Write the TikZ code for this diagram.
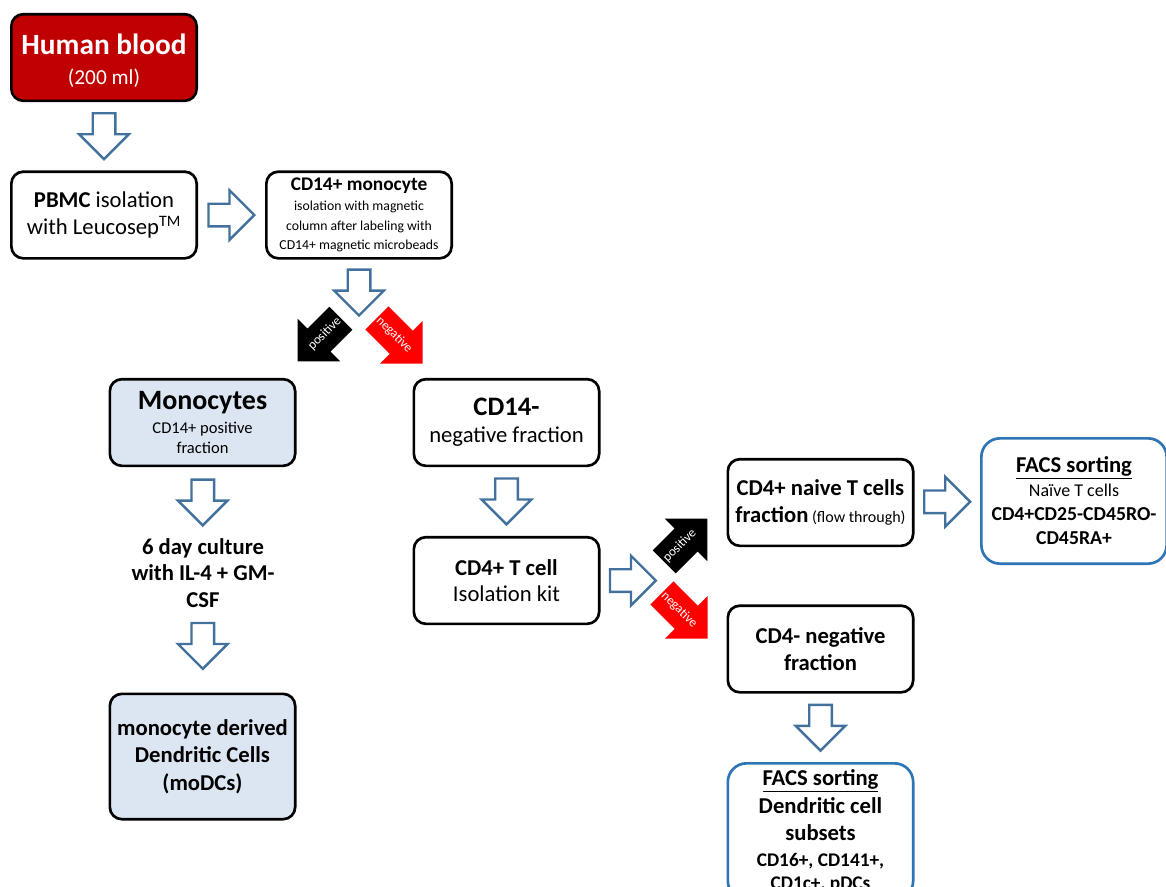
\documentclass[tikz,border=0pt]{standalone}
\usepackage{fontspec}
\setmainfont{Carlito}
\usepackage{color}
\definecolor{mydarkred}{RGB}{192,0,0}
\definecolor{mypaleblue}{RGB}{220,230,242}
\definecolor{myarrowblue}{RGB}{65,113,156}
\definecolor{myfacsblue}{RGB}{46,117,182}
\usepackage{tikz}
\usetikzlibrary{shapes.arrows,positioning,calc}
\newcommand{\smalltext}{\fontsize{10.3}{13}\selectfont}
\newcommand{\midtext}{\fontsize{12.4}{15}\selectfont}
\tikzstyle{stepbox}=[draw,line width=2pt,rounded corners=9pt,fill=white,minimum width=139pt,minimum height=65pt,align=center,inner sep=2pt,font=\fontsize{17}{20}\selectfont]
\tikzstyle{bloodbox}=[stepbox,fill=mydarkred,text=white]
\tikzstyle{cellbox}=[stepbox,fill=mypaleblue]
\tikzstyle{facsbox}=[stepbox,draw=myfacsblue,rounded corners=14pt]
\tikzstyle{hollowline}=[draw=myarrowblue,fill=white,line width=1.8pt,line join=miter]
\tikzstyle{splitarrow}=[single arrow,text=white,minimum width=45pt,inner xsep=1pt,inner ysep=3pt,text height=6.8pt,text depth=2.2pt,single arrow head extend=6.5pt,font=\fontsize{9.8}{10}\selectfont]
\tikzset{
  hollowdown/.pic={\draw[hollowline] (-11.3,-23) -- (11.3,-23) -- (11.3,-2) -- (24.8,-2) -- (0,22.8) -- (-24.8,-2) -- (-11.3,-2) -- cycle;},
  hollowright/.pic={\draw[hollowline] (-23,-11.3) -- (-2,-11.3) -- (-2,-24.8) -- (22.8,0) -- (-2,24.8) -- (-2,11.3) -- (-23,11.3) -- cycle;}
}

\begin{document}
\begin{tikzpicture}[x=0.75pt,y=-0.75pt]
\useasboundingbox (0,0) rectangle (1166,886);
% boxes
\draw (104,57.5) node [bloodbox] (blood) {\rule{0pt}{20pt}{\fontsize{22}{26}\selectfont\bfseries Human blood}\\[2pt]{\fontsize{16}{20}\selectfont (200 ml)}};
\draw (104,215) node [stepbox] (pbmc) {\textbf{PBMC} isolation\\with Leucosep\textsuperscript{TM}};
\draw (359,215) node [stepbox] (cd14) {{\fontsize{14.5}{19}\selectfont\bfseries CD14+ monocyte}\\[-5pt]{\smalltext isolation with magnetic}\\[-5.5pt]{\smalltext column after labeling with}\\[-5.5pt]{\smalltext CD14+ magnetic microbeads}};
\draw (202.5,422.5) node [cellbox] (mono) {{\fontsize{21}{24}\selectfont\bfseries Monocytes}\\[-2pt]{\midtext CD14+ positive}\\[-5pt]{\midtext fraction}};
\draw (203,573) node [align=center,inner sep=0pt,font=\fontsize{17}{20}\selectfont\bfseries] (culture) {6 day culture\\with IL-4 + GM-\\CSF};
\draw (202.5,756.5) node [cellbox,minimum height=94pt,font=\fontsize{17}{20.5}\selectfont\bfseries] (modc) {monocyte derived\\Dendritic Cells\\(moDCs)};
\draw (506.5,422.5) node [stepbox] (neg) {{\fontsize{20}{22}\selectfont\bfseries CD14-}\\negative fraction};
\draw (506.5,580.5) node [stepbox] (tkit) {\textbf{CD4+ T cell}\\Isolation kit};
\draw (820.5,502.5) node [stepbox] (naive) {\textbf{CD4+ naive T cells}\\\textbf{fraction}{\fontsize{12}{14}\selectfont\ (flow through)}};
\draw (1074,501) node [facsbox,minimum height=94pt,font=\fontsize{14.8}{18}\selectfont] (facsnaive) {{\fontsize{17}{20}\selectfont\bfseries\underline{FACS sorting}}\\{\fontsize{13.5}{17}\selectfont Na\"{\i}ve T cells}\\\textbf{CD4+CD25-CD45RO-}\\\textbf{CD45RA+}};
\draw (820.5,649) node [stepbox,font=\fontsize{17}{20}\selectfont\bfseries] (cd4neg) {CD4- negative\\fraction};
\draw (820.5,762) node [facsbox,anchor=north,inner ysep=5pt,font=\fontsize{17}{20.5}\selectfont\bfseries] (facsdc) {\underline{FACS sorting}\\Dendritic cell\\subsets\\[-1pt]{\fontsize{14.5}{18}\selectfont CD16+, CD141+,}\\[-3pt]{\fontsize{14.5}{18}\selectfont CD1c+, pDCs}};
% hollow arrows
\path (blood.south) -- (pbmc.north) coordinate[midway] (m1);
\path (pbmc.east) -- (cd14.west) coordinate[midway] (m2);
\path (cd14.south) -- ++(0,66) coordinate[midway] (m3);
\path (mono.south) -- (culture.north) coordinate[midway] (m4);
\path (culture.south) -- (modc.north) coordinate[pos=0.45] (m5);
\path (neg.south) -- (tkit.north) coordinate[midway] (m6);
\path (tkit.east) -- ++(65,0) coordinate[midway] (m7);
\path (naive.east) -- (facsnaive.west) coordinate[midway] (m8);
\path (cd4neg.south) -- (facsdc.north) coordinate[midway] (m9);
\foreach \m in {m1,m3,m4,m5,m6,m9} \pic at (\m) {hollowdown};
\foreach \m in {m2,m7,m8} \pic at (\m) {hollowright};
% positive / negative split
\draw (325,334) node [splitarrow,fill=black,rotate=45,shape border rotate=180] (pos1) {positive};
\draw (394,335) node [splitarrow,fill=red,rotate=-45] (neg1) {negative};
\draw (680,546) node [splitarrow,fill=black,rotate=45] (pos2) {positive};
\draw (679,610) node [splitarrow,fill=red,rotate=-45] (neg2) {negative};
\end{tikzpicture}
\end{document}
